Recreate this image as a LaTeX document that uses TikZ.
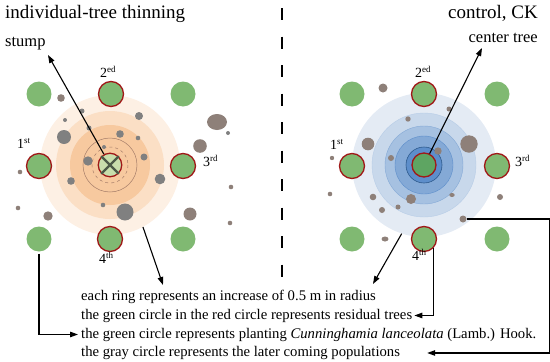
\documentclass[tikz,border=0pt]{standalone}
\usepackage{fontspec}
\setmainfont{Liberation Serif}
\usetikzlibrary{arrows.meta,calc}
\definecolor{gfill}{RGB}{128,185,114}
\definecolor{gdark}{RGB}{94,165,98}
\definecolor{glight}{RGB}{200,222,172}
\definecolor{redb}{RGB}{160,24,24}
\definecolor{grayc}{RGB}{128,128,128}
\definecolor{brownc}{RGB}{142,128,121}
\definecolor{xcol}{RGB}{76,90,71}
\definecolor{o1}{RGB}{253,240,228}
\definecolor{o2}{RGB}{251,223,197}
\definecolor{o3}{RGB}{247,201,159}
\definecolor{oline}{RGB}{165,125,105}
\definecolor{b1}{RGB}{228,235,244}
\definecolor{b2}{RGB}{200,216,235}
\definecolor{b3}{RGB}{166,193,225}
\definecolor{b4}{RGB}{132,169,214}
\definecolor{b5}{RGB}{93,142,203}
\definecolor{bline}{RGB}{46,90,140}
\tikzset{
  tree/.style={circle,minimum size=25pt,inner sep=0pt,fill=gfill},
  redtree/.style={tree,draw=redb,line width=1.3pt},
  ring/.style={circle,inner sep=0pt,minimum size=#1},
  gdot/.style={fill=grayc},
  bdot/.style={fill=brownc},
  arr/.style={line width=1.1pt,-{Triangle[length=8pt,width=5.5pt]}},
  lab/.style={font=\fontsize{14}{14}\selectfont,inner sep=0pt,anchor=base west},
  txt/.style={font=\fontsize{14.7}{16}\selectfont,inner sep=0pt,anchor=base west},
}
\newcommand{\sups}[1]{{\fontsize{9}{9}\selectfont\raisebox{4.5pt}{#1}}}
\begin{document}
\begin{tikzpicture}[x=1pt,y=-1pt]
\useasboundingbox (0,0) rectangle (550,362);
% ---------- left panel rings
\node[ring=140pt,fill=o1] (ringL) at (110,165) {};
\node[ring=108pt,fill=o2] at (110,165) {};
\node[ring=80pt,fill=o3] at (110,165) {};
\draw[oline,line width=0.5pt] (110,165) circle[radius=27];
\draw[oline,line width=0.5pt,dashed] (110,165) circle[radius=18];
% ---------- right panel rings
\node[ring=144pt,fill=b1] (ringR) at (424,165) {};
\node[ring=104pt,fill=b2,draw=b3!80!white,line width=0.4pt] at (424,165) {};
\node[ring=78pt,fill=b3,draw=b4,line width=0.4pt] at (424,165) {};
\node[ring=58pt,fill=b4,draw=b5,line width=0.4pt] at (424,165) {};
\node[ring=36pt,fill=b5,draw=bline,line width=0.6pt] at (424,165) {};
% ---------- left gray circles
\fill[bdot] (61,98) circle[radius=3.8];
\fill[gdot] (82,111) circle[radius=2.5];
\fill[gdot] (65,120) circle[radius=2];
\fill[gdot] (64,137) circle[radius=7];
\fill[gdot] (89,128) circle[radius=2.5];
\fill[gdot] (120,134) circle[radius=3.8];
\fill[gdot] (139,116) circle[radius=4];
\fill[gdot] (138,138) circle[radius=2.3];
\fill[gdot] (104,147) circle[radius=2];
\fill[gdot] (144,157) circle[radius=3.5];
\fill[gdot] (88,161) circle[radius=4.7];
\fill[bdot] (217,122) ellipse[x radius=10,y radius=8];
\fill[gdot] (228,133) circle[radius=2];
\fill[bdot] (200,146) circle[radius=6.8];
\fill[bdot] (20,172) circle[radius=2.3];
\fill[gdot] (160,179) circle[radius=5.3];
\fill[gdot] (71,181) circle[radius=3.8];
\fill[bdot] (18,208) circle[radius=2.3];
\fill[bdot] (48,216) circle[radius=4.7];
\fill[gdot] (103,205) circle[radius=2.3];
\fill[gdot] (125,212) circle[radius=8.5];
\fill[bdot] (190,214) circle[radius=6.5];
\fill[bdot] (231,187) circle[radius=2.3];
\fill[bdot] (230,223) circle[radius=2.3];
% ---------- right gray circles
\fill[bdot] (383,88) circle[radius=4.5];
\fill[bdot] (408,119) circle[radius=2.7];
\fill[bdot] (449,109) circle[radius=2.5];
\fill[bdot] (368,144) circle[radius=6.3];
\fill[bdot] (469,144) circle[radius=8.7];
\fill[bdot] (438,151) circle[radius=3.7];
\fill[bdot] (391,158) circle[radius=3];
\fill[bdot] (332,158) circle[radius=2.2];
\fill[bdot] (330,194) circle[radius=2.3];
\fill[bdot] (373,197) circle[radius=3.3];
\fill[bdot] (411,199) circle[radius=5];
\fill[bdot] (398,207) circle[radius=2.5];
\fill[bdot] (382,210) circle[radius=3];
\fill[bdot] (452,195) ellipse[x radius=2.7,y radius=2];
\fill[bdot] (500,197) circle[radius=3];
\node[circle,fill=brownc,inner sep=0pt,minimum size=7pt] (gR) at (463,219) {};
\fill[bdot] (385,239) ellipse[x radius=3.5,y radius=2.5];
% ---------- left trees
\node[tree] (LTL) at (39,94) {};
\node[redtree] (L2) at (111,94) {};
\node[tree] (LTR) at (183,94) {};
\node[redtree] (L1) at (39,166) {};
\node[redtree] (L3) at (183,166) {};
\node[tree] (LBL) at (39,239) {};
\node[redtree] (L4) at (110,239) {};
\node[tree] (LBR) at (183,239) {};
\node[tree,fill=glight,draw=redb,line width=1.3pt,minimum size=23.5pt] (stump) at (110,165) {};
\draw[xcol,line width=2.4pt] (stump.45) -- (stump.225) (stump.135) -- (stump.315);
% ---------- right trees
\node[tree] (RTL) at (352,94) {};
\node[redtree] (R2) at (424,94) {};
\node[tree] (RTR) at (497,94) {};
\node[redtree] (R1) at (352,166) {};
\node[redtree] (R3) at (497,166) {};
\node[tree] (RBL) at (352,239) {};
\node[redtree] (R4) at (424,239) {};
\node[tree] (RBR) at (497,239) {};
\node[redtree,fill=gdark,minimum size=24pt] (ctree) at (424,165) {};
% ---------- labels
\node[lab] (l2) at (100,77) {2\sups{ed}};
\node[lab] (l1) at (17,148) {1\sups{st}};
\node[lab] (l3) at (203,166) {3\sups{rd}};
\node[lab] (l4) at (99,263) {4\sups{th}};
\node[lab] (r2) at (415,77) {2\sups{ed}};
\node[lab] (r1) at (330,149) {1\sups{st}};
\node[lab] (r3) at (515,166) {3\sups{rd}};
\node[lab] (r4) at (412,260) {4\sups{th}};
% ---------- titles
\node[font=\fontsize{19}{19}\selectfont,inner sep=0pt,anchor=base west] (titleL) at (5,18) {individual-tree thinning};
\node[font=\fontsize{19}{19}\selectfont,inner sep=0pt,anchor=base east] (titleR) at (538,18) {control, CK};
\node[font=\fontsize{16.5}{16.5}\selectfont,inner sep=0pt,anchor=base west] (stumplab) at (5,46) {stump};
\node[font=\fontsize{16.5}{16.5}\selectfont,inner sep=0pt,anchor=base east] (ctlab) at (538,42) {center tree};
% ---------- divider
\draw[line width=2.4pt,dash pattern=on 12pt off 16.5pt] (282,8) -- (282,280);
% ---------- bottom texts
\node[txt] (line1) at (81,300) {each ring represents an increase of 0.5 m in radius};
\node[txt] (line2) at (81,319) {the green circle in the red circle represents residual trees};
\node[txt] (line3) at (81,338) {the green circle represents planting \textit{Cunninghamia lanceolata} (Lamb.) Hook.};
\node[txt] (line4) at (81,356.5) {the gray circle represents the later coming populations};
% ---------- arrows
\coordinate (tipS) at (48,55);
\coordinate (tipC) at (482,48);
\coordinate (tipL1) at (163,285);
\coordinate (tipR1) at (373,284);
\draw[arr] (stump) -- (tipS);
\draw[arr] (ctree) -- (tipC);
\draw[arr] (ringL.-62) -- (tipL1);
\draw[arr] (ringR.-108) -- (tipR1);
\draw[arr,shorten >=3pt] ([yshift=-2pt]LBL.south) |- (line3.west);
\draw[arr,shorten >=-1pt] (R4.south east) |- ($(line2.east)+(3,0)$);
\draw[arr] (gR.east) -- ++(83,0) |- ($(line4.east)+(27,0)$);
\end{tikzpicture}
\end{document}
